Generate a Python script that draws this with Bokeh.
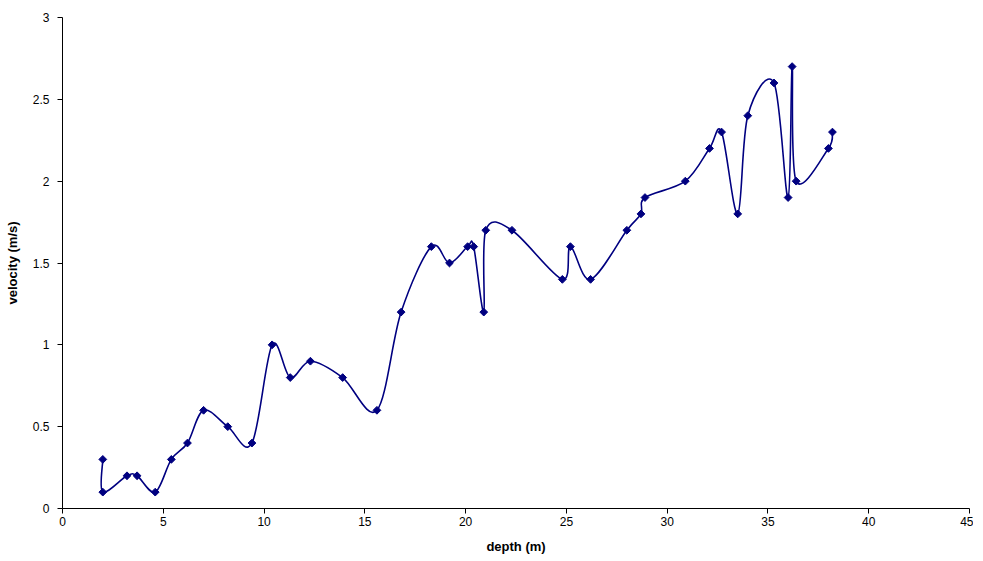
import math
from bokeh.plotting import figure
from bokeh.models import FixedTicker, CustomJSTickFormatter, Range1d, ColumnDataSource
from bokeh.embed import file_html
from bokeh.resources import INLINE

depth = [2.0, 2.0, 3.2, 3.7, 4.6, 5.4, 6.2, 7.0, 8.2, 9.4, 10.4, 11.3, 12.3, 13.9, 15.6,
         16.8, 18.3, 19.2, 20.1, 20.4, 20.9, 21.0, 22.3, 24.8, 25.2, 26.2, 28.0, 28.7, 28.9,
         30.9, 32.1, 32.7, 33.5, 34.0, 35.3, 36.0, 36.2, 36.4, 38.0, 38.2]
velocity = [0.3, 0.1, 0.2, 0.2, 0.1, 0.3, 0.4, 0.6, 0.5, 0.4, 1.0, 0.8, 0.9, 0.8, 0.6,
            1.2, 1.6, 1.5, 1.6, 1.6, 1.2, 1.7, 1.7, 1.4, 1.6, 1.4, 1.7, 1.8, 1.9,
            2.0, 2.2, 2.3, 1.8, 2.4, 2.6, 1.9, 2.7, 2.0, 2.2, 2.3]
x_ticks = [0, 5, 10, 15, 20, 25, 30, 35, 40, 45]
y_ticks = [0, 0.5, 1, 1.5, 2, 2.5, 3]

NAVY = "#000080"
FONT = "Liberation Sans"

p = figure(width=975, height=553, output_backend="svg", toolbar_location=None,
           x_range=Range1d(0, 45), y_range=Range1d(0, 3),
           min_border_left=62, min_border_top=17, min_border_right=4, min_border_bottom=10)
p.frame_width = 907
p.frame_height = 491
p.outline_line_color = None
p.grid.visible = False
p.background_fill_color = "white"
p.border_fill_color = "white"

# Smoothed (Catmull-Rom style) curve through the points, as Excel's smoothed scatter
n = len(depth)
x0, y0, x1, y1, cx0, cy0, cx1, cy1 = [], [], [], [], [], [], [], []
for i in range(n - 1):
    pm = max(i - 1, 0)
    pn = min(i + 2, n - 1)
    x0.append(depth[i]); y0.append(velocity[i])
    x1.append(depth[i + 1]); y1.append(velocity[i + 1])
    cx0.append(depth[i] + (depth[i + 1] - depth[pm]) / 6)
    cy0.append(velocity[i] + (velocity[i + 1] - velocity[pm]) / 6)
    cx1.append(depth[i + 1] - (depth[pn] - depth[i]) / 6)
    cy1.append(velocity[i + 1] - (velocity[pn] - velocity[i]) / 6)
bsrc = ColumnDataSource(dict(x0=x0, y0=y0, x1=x1, y1=y1, cx0=cx0, cy0=cy0, cx1=cx1, cy1=cy1))
p.bezier(x0="x0", y0="y0", x1="x1", y1="y1", cx0="cx0", cy0="cy0", cx1="cx1", cy1="cy1",
         source=bsrc, line_color=NAVY, line_width=1.6)

p.scatter(depth, velocity, marker="square", angle=math.pi / 4, size=5.5,
          fill_color=NAVY, line_color=NAVY, line_width=1)

fmt = CustomJSTickFormatter(code="return tick.toString();")
for ax in (p.xaxis[0], p.yaxis[0]):
    ax.formatter = fmt
    ax.axis_line_color = "black"
    ax.major_tick_line_color = "black"
    ax.minor_tick_line_color = None
    ax.major_tick_in = 0
    ax.major_tick_out = 5
    ax.major_label_text_font = FONT
    ax.major_label_text_font_size = "12px"
    ax.major_label_text_color = "black"
    ax.axis_label_text_font = FONT
    ax.axis_label_text_font_size = "13px"
    ax.axis_label_text_font_style = "bold"
    ax.axis_label_text_color = "black"

p.xaxis[0].ticker = FixedTicker(ticks=x_ticks)
p.yaxis[0].ticker = FixedTicker(ticks=y_ticks)
p.xaxis[0].axis_label = "depth (m)"
p.yaxis[0].axis_label = "velocity (m/s)"
p.xaxis[0].major_label_standoff = 3
p.yaxis[0].major_label_standoff = 8
p.xaxis[0].axis_label_standoff = 10
p.yaxis[0].axis_label_standoff = 10

open("out.html", "w").write(file_html(p, INLINE))
